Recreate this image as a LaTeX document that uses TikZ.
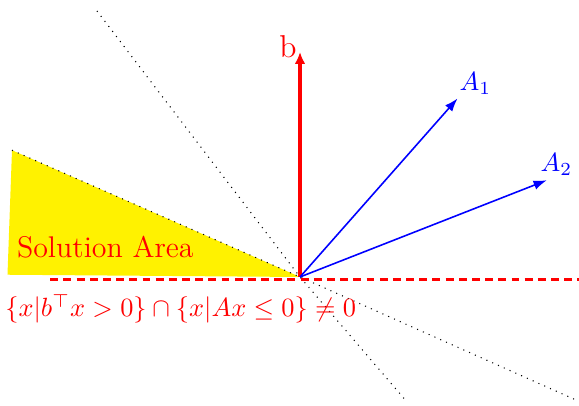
\documentclass[tikz,border=0pt]{standalone}
\usepackage{tikz}
\usetikzlibrary{arrows.meta, positioning}
\usepackage{amsmath, amssymb}

\begin{document}
\begin{tikzpicture}[
  bvec/.style={draw=red, very thick, -{Latex[length=4.5pt, width=4pt]}},
  avec/.style={draw=blue, semithick, -{Latex[length=5pt, width=3.6pt]}},
  cone/.style={black, dotted},
  lbl/.style={font=\large, inner sep=0pt},
  vlbl/.style={font=\normalsize, inner sep=0pt, blue}
]
  \useasboundingbox (-4.0,-1.72) rectangle (3.72,3.693);
  \coordinate (O) at (0,0);
  \coordinate (b) at (0,3.0);
  \coordinate (A1) at (2.1,2.38);
  \coordinate (A2) at (3.29,1.29);
  % dotted boundary lines
  \coordinate (p1) at (-2.707,3.547);
  \coordinate (p2) at (1.427,-1.667);
  \coordinate (p3) at (-3.84,1.69);
  \coordinate (p4) at (3.68,-1.64);
  \coordinate (q1) at (-3.9,0.03);
  \coordinate (h1) at (-3.33,-0.03);
  \coordinate (h2) at (3.72,-0.03);

  \fill[yellow] (p3) -- (q1) -- (O) -- cycle;
  \draw[cone] (p1) -- (O) -- (p2);
  \draw[cone] (p3) -- (O) -- (p4);
  \draw[red, very thick, dash pattern=on 3pt off 2pt] (h1) -- (h2);

  \draw[bvec] (O) -- (b);
  \draw[avec] (O) -- (A1);
  \draw[avec] (O) -- (A2);

  \node[lbl, red, anchor=base east] (blbl) at (-0.04,2.93) {b};
  \node[vlbl, anchor=base west] (a1lbl) at (2.12,2.49) {$A_1$};
  \node[vlbl, anchor=base west] (a2lbl) at (3.2,1.4) {$A_2$};
  \node[lbl, red, anchor=base west, font=\fontsize{11.35}{13}\selectfont] (area) at (-3.78,0.265) {Solution Area};
  \node[lbl, red, anchor=base west, font=\fontsize{10.2}{12}\selectfont] (set) at (-3.935,-0.53)
    {$\{x|b^{\top}x>0\}\cap\{x|Ax\leq 0\}\neq 0$};
\end{tikzpicture}
\end{document}
